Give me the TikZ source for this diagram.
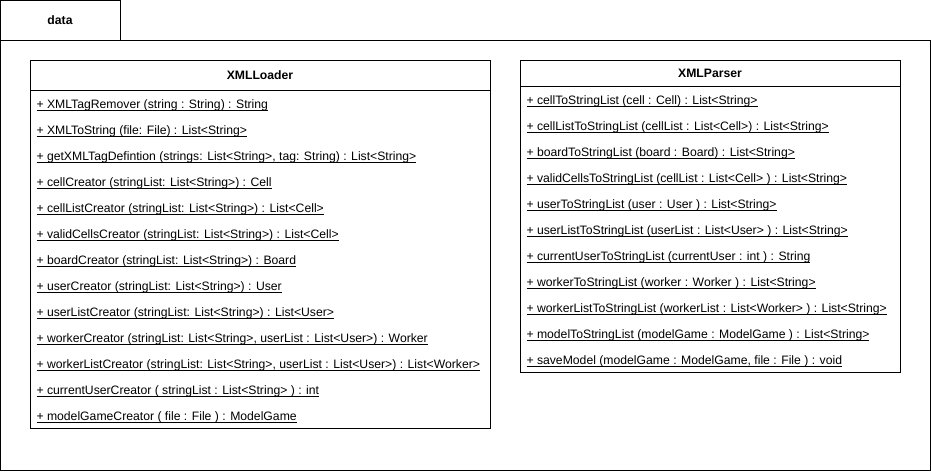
\documentclass[tikz,border=0pt]{standalone}
\usepackage{fontspec}
\setmainfont{Liberation Sans}
\usetikzlibrary{matrix,positioning}
% underlined (static) member, line close under the baseline
\newcommand{\umeth}[1]{\setbox0\hbox{#1}\rlap{\vrule width\wd0 height -1.6pt depth 2.6pt}\box0}

\begin{document}
\begin{tikzpicture}[x=1pt,y=-1pt,line width=1pt,
            every node/.style={font=\fontsize{12.2}{14}\selectfont},
            title/.style={font=\fontsize{12.2}{14}\selectfont\bfseries},
            methods/.style={matrix of nodes, anchor=north west, inner sep=0pt,
                row sep=15pt,
                nodes={anchor=west, text height=8pt, text depth=3pt, inner sep=0pt}}]
            \useasboundingbox (0,0) rectangle (931,471);

            % package
            \draw (0,0) rectangle (120,40);
            \node[title] (pkg) at (60,20) {data};
            \draw (0,40) rectangle (930,470);

            % XMLLoader
            \draw (30,60) rectangle (490,428);
            \draw (30,90) -- (490,90);
            \node[title] (loaderName) at (260,75) {XMLLoader};
            \matrix (loader) [methods] at (36,100)
            {
                \umeth{+ XMLTagRemover (string : String) : String} \\
                \umeth{+ XMLToString (file: File) : List<String>} \\
                \umeth{+ getXMLTagDefintion (strings: List<String>, tag: String) : List<String>} \\
                \umeth{+ cellCreator (stringList: List<String>) : Cell} \\
                \umeth{+ cellListCreator (stringList: List<String>) : List<Cell>} \\
                \umeth{+ validCellsCreator (stringList: List<String>) : List<Cell>} \\
                \umeth{+ boardCreator (stringList: List<String>) : Board} \\
                \umeth{+ userCreator (stringList: List<String>) : User} \\
                \umeth{+ userListCreator (stringList: List<String>) : List<User>} \\
                \umeth{+ workerCreator (stringList: List<String>, userList : List<User>) : Worker} \\
                \umeth{+ workerListCreator (stringList: List<String>, userList : List<User>) : List<Worker>} \\
                \umeth{+ currentUserCreator ( stringList : List<String> ) : int} \\
                \umeth{+ modelGameCreator ( file : File ) : ModelGame} \\
            };

            % XMLParser
            \draw (520,60) rectangle (900,372);
            \draw (520,86) -- (900,86);
            \node[title] (parserName) at (710,73) {XMLParser};
            \matrix (parser) [methods] at (526,95.5)
            {
                \umeth{+ cellToStringList (cell : Cell) : List<String>} \\
                \umeth{+ cellListToStringList (cellList : List<Cell>) : List<String>} \\
                \umeth{+ boardToStringList (board : Board) : List<String>} \\
                \umeth{+ validCellsToStringList (cellList : List<Cell> ) : List<String>} \\
                \umeth{+ userToStringList (user : User ) : List<String>} \\
                \umeth{+ userListToStringList (userList : List<User> ) : List<String>} \\
                \umeth{+ currentUserToStringList (currentUser : int ) : String} \\
                \umeth{+ workerToStringList (worker : Worker ) : List<String>} \\
                \umeth{+ workerListToStringList (workerList : List<Worker> ) : List<String>} \\
                \umeth{+ modelToStringList (modelGame : ModelGame ) : List<String>} \\
                \umeth{+ saveModel (modelGame : ModelGame, file : File ) : void} \\
            };

        \end{tikzpicture}
\end{document}
